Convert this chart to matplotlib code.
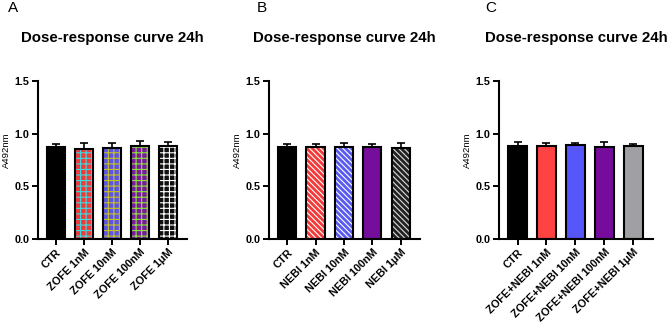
import matplotlib
matplotlib.use("Agg")
import matplotlib.pyplot as plt

plt.rcParams['font.family'] = ['Liberation Sans', 'DejaVu Sans']
plt.rcParams['hatch.linewidth'] = 0.8

# data
labels_a = ["CTR", "ZOFE 1nM", "ZOFE 10nM", "ZOFE 100nM", "ZOFE 1\u03bcM"]
means_a = [0.873, 0.857, 0.867, 0.886, 0.879]
errs_a = [0.029, 0.054, 0.047, 0.044, 0.038]

labels_b = ["CTR", "NEBI 1nM", "NEBI 10nM", "NEBI 100nM", "NEBI 1\u03bcM"]
means_b = [0.870, 0.875, 0.870, 0.876, 0.866]
errs_b = [0.032, 0.030, 0.040, 0.030, 0.045]

labels_c = ["CTR", "ZOFE+NEBI 1nM", "ZOFE+NEBI 10nM", "ZOFE+NEBI 100nM", "ZOFE+NEBI 1\u03bcM"]
means_c = [0.880, 0.882, 0.896, 0.872, 0.885]
errs_c = [0.042, 0.030, 0.018, 0.045, 0.020]

colors_a = ["#000000", "#F23A3A", "#5B55E8", "#7A1A9E", "#111111"]
hatch_colors_a = [None, "#3FD7E0", "#C8C020", "#8CE040", "#FFFFFF"]
hatches_a = [None, "+++", "+++", "+++", "+++"]

colors_b = ["#000000", "#F23A3A", "#5A5AF0", "#760E9C", "#222222"]
hatch_colors_b = [None, "#FFFFFF", "#FFFFFF", None, "#DDDDDD"]
hatches_b = [None, "\\" * 6, "\\" * 6, None, "\\" * 6]

colors_c = ["#000000", "#FF4242", "#5656FA", "#760C9C", "#A0A0A4"]

panels = [
    ("A", 8, [0.0568, 0.2758, 0.2227, 0.4787], labels_a, means_a, errs_a, colors_a, hatches_a, hatch_colors_a),
    ("B", 257, [0.4021, 0.2758, 0.2257, 0.4787], labels_b, means_b, errs_b, colors_b, hatches_b, hatch_colors_b),
    ("C", 485, [0.7459, 0.2758, 0.2302, 0.4787], labels_c, means_c, errs_c, colors_c, [None] * 5, [None] * 5),
]

fig = plt.figure(figsize=(6.69, 3.30), dpi=100)

for letter, letter_x, rect, labels, means, errs, colors, hatches, hcols in panels:
    ax = fig.add_axes(rect)
    x = range(len(labels))
    for i in x:
        # fill (with hatch in its own colour), then the black outline on top
        ax.bar(i, means[i], width=0.64, color=colors[i], hatch=hatches[i],
               edgecolor=hcols[i] if hcols[i] else colors[i], linewidth=0, zorder=2)
        ax.bar(i, means[i], width=0.64, fill=False, edgecolor="black",
               linewidth=1.5, zorder=3)
    ax.errorbar(list(x), means, yerr=[[0] * len(means), errs], fmt="none",
                ecolor="black", elinewidth=1.2, capsize=3.2, capthick=1.2, zorder=1)

    ax.set_xlim(-0.64, len(labels) - 0.32)
    ax.set_ylim(0, 1.5)
    ax.set_yticks([0, 0.5, 1.0, 1.5])
    ax.set_yticklabels(["0.0", "0.5", "1.0", "1.5"], fontweight="bold", fontsize=7.8)
    ax.set_xticks(list(x))
    ax.set_xticklabels(labels, rotation=45, ha="right", rotation_mode="anchor",
                       fontweight="bold", fontsize=7.8)
    ax.tick_params(axis="both", width=1.4, length=4, pad=2, color="black")
    for s in ["top", "right"]:
        ax.spines[s].set_visible(False)
    for s in ["left", "bottom"]:
        ax.spines[s].set_linewidth(1.5)
    ax.set_ylabel("A492nm", fontsize=6.8, labelpad=3, y=0.56)
    ax.set_title("Dose-response curve 24h", fontweight="bold", fontsize=10.8, pad=28)

    fig.text(letter_x / 669, 1 - 1 / 330, letter, fontsize=11, ha="left", va="top")

fig.savefig("out.png", dpi=100)
